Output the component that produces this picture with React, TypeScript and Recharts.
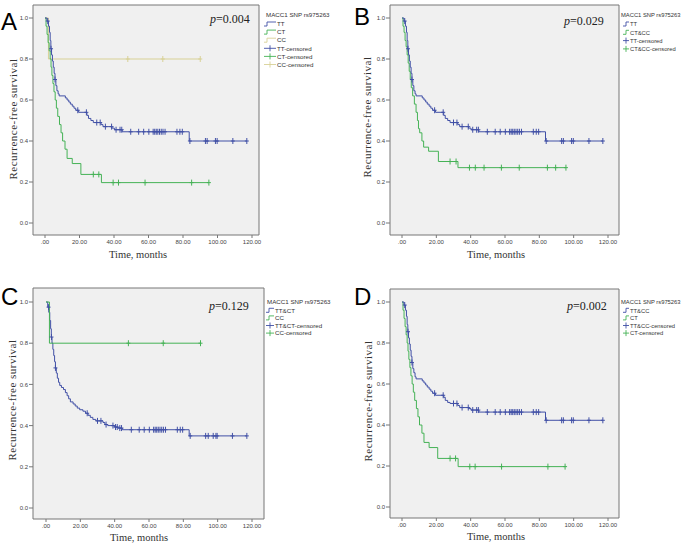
import React from "react";
import { ComposedChart, Line, Scatter, XAxis, YAxis, CartesianGrid, ReferenceArea } from "recharts";

// ---------- tick values ----------
const X_TICKS = [0, 20, 40, 60, 80, 100, 120];
const Y_TICKS = [0, 0.2, 0.4, 0.6, 0.8, 1.0];

// ---------- Kaplan-Meier step data (time in months, survival) ----------
// TT (panels A and B)
const TT_TIME = [0, 1.2, 2.0, 2.6, 3.0, 3.4, 3.8, 4.3, 4.8, 5.3, 5.8, 6.3, 6.9, 7.6, 8.2, 11.8, 12.8, 13.8, 14.7, 15.8, 16.8, 17.8, 19.5, 24.3, 25.2, 26.6, 28.0, 32.5, 33.6, 38.8, 40.2, 44.8, 83.6, 117];
const TT_SURV = [1.0, 0.985, 0.96, 0.93, 0.89, 0.85, 0.82, 0.79, 0.76, 0.73, 0.70, 0.67, 0.645, 0.63, 0.62, 0.61, 0.60, 0.59, 0.58, 0.57, 0.56, 0.55, 0.54, 0.525, 0.51, 0.50, 0.49, 0.48, 0.47, 0.463, 0.455, 0.445, 0.40, 0.40];
const TT_CENSOR = [1.6, 3.5, 5.8, 19.0, 24.0, 30.0, 32.0, 35.0, 38.6, 41.2, 43.5, 44.5, 49.7, 54.3, 57.2, 60.2, 62.7, 63.6, 64.5, 65.4, 66.4, 67.4, 68.4, 69.6, 76.5, 78.2, 79.6, 84.0, 93.0, 94.0, 98.8, 99.8, 108.9, 117];

// CT (panels A and D)
const CT_TIME = [0, 0.6, 1.2, 1.8, 2.4, 3.0, 3.5, 4.0, 4.6, 5.2, 5.9, 6.6, 7.4, 8.4, 9.3, 10.2, 11.6, 12.8, 15.8, 20.8, 32.7, 95];
const CT_SURV = [1.0, 0.96, 0.92, 0.88, 0.84, 0.80, 0.76, 0.72, 0.68, 0.64, 0.60, 0.56, 0.52, 0.48, 0.44, 0.40, 0.36, 0.315, 0.29, 0.237, 0.197, 0.197];
const CT_CENSOR = [28, 31.2, 39.5, 42.6, 58, 85, 95];

// CC (panels A and C)
const CC_TIME = [0, 2.0, 90];
const CC_SURV = [1.0, 0.8, 0.8];
const CC_CENSOR = [48, 68.3, 90];

// CT&CC (panel B)
const CTCC_TIME = [0, 0.6, 1.2, 1.8, 2.4, 3.0, 3.6, 4.2, 4.8, 5.4, 6.2, 7.2, 8.2, 9.0, 9.6, 10.3, 11.6, 12.6, 15.5, 21.2, 32.6, 95.5];
const CTCC_SURV = [1.0, 0.96, 0.93, 0.89, 0.86, 0.82, 0.78, 0.74, 0.70, 0.66, 0.62, 0.58, 0.54, 0.50, 0.46, 0.44, 0.40, 0.37, 0.35, 0.30, 0.27, 0.27];
const CTCC_CENSOR = [28, 31.5, 39.3, 42.7, 47.8, 57.9, 68.3, 84.7, 89.5, 95.5];

// TT&CT (panel C)
const TTCT_TIME = [0, 1.0, 1.6, 2.2, 2.7, 3.1, 3.5, 4.0, 4.5, 5.0, 5.5, 6.0, 6.6, 7.3, 8.0, 9.0, 10.2, 11.3, 12.3, 13.2, 14.2, 15.8, 17.0, 18.2, 19.6, 21.5, 23.0, 24.5, 25.8, 27.3, 29.0, 33.2, 34.3, 36.0, 39.8, 42.0, 44.5, 83.4, 117];
const TTCT_SURV = [1.0, 0.975, 0.95, 0.91, 0.87, 0.83, 0.80, 0.77, 0.74, 0.71, 0.68, 0.655, 0.63, 0.61, 0.595, 0.585, 0.575, 0.56, 0.545, 0.53, 0.515, 0.505, 0.495, 0.485, 0.477, 0.47, 0.46, 0.45, 0.44, 0.43, 0.423, 0.415, 0.405, 0.40, 0.393, 0.388, 0.38, 0.35, 0.35];
const TTCT_CENSOR = [1.5, 3.2, 5.5, 24.0, 30.0, 32.0, 35.0, 39.0, 40.5, 41.5, 43.0, 44.0, 49.7, 54.3, 57.2, 60.2, 62.7, 63.6, 64.5, 65.4, 66.4, 67.4, 68.4, 69.6, 76.5, 78.2, 79.6, 84.0, 93.0, 94.5, 97.4, 99.0, 99.7, 108.6, 117];

// TT&CC (panel D)
const TTCC_TIME = [0, 1.2, 2.0, 2.6, 3.0, 3.4, 3.8, 4.3, 4.8, 5.3, 5.8, 6.3, 6.9, 7.6, 8.2, 11.8, 12.8, 13.8, 14.7, 15.8, 16.8, 17.8, 19.5, 24.3, 25.2, 26.6, 28.0, 32.5, 33.6, 38.8, 40.2, 44.8, 83.6, 117];
const TTCC_SURV = [1.0, 0.985, 0.96, 0.93, 0.89, 0.855, 0.825, 0.795, 0.765, 0.735, 0.705, 0.675, 0.655, 0.635, 0.625, 0.615, 0.605, 0.595, 0.585, 0.575, 0.565, 0.555, 0.545, 0.535, 0.52, 0.51, 0.505, 0.495, 0.485, 0.48, 0.473, 0.463, 0.423, 0.423];
const TTCC_CENSOR = TT_CENSOR;

// ---------- legend labels / p-values ----------
const LEGEND_TITLE = "MACC1 SNP rs975263";
const A_LABELS = ["TT", "CT", "CC", "TT-censored", "CT-censored", "CC-censored"];
const B_LABELS = ["TT", "CT&CC", "TT-censored", "CT&CC-censored"];
const C_LABELS = ["TT&CT", "CC", "TT&CT-censored", "CC-censored"];
const D_LABELS = ["TT&CC", "CT", "TT&CC-censored", "CT-censored"];
const P_VALUES = ["0.004", "0.029", "0.129", "0.002"];
const PANEL_LETTERS = ["A", "B", "C", "D"];

// ---------- styling ----------
const BLUE = "#4150a6";
const GREEN = "#45b256";
const PALE = "#d8d196";
const SANS = "'Liberation Sans', Arial, sans-serif";
const SERIF = "'Liberation Serif', 'Times New Roman', serif";

function km(times: number[], surv: number[]) {
  return times.map((t, i) => ({ t, s: surv[i] }));
}
function censored(cens: number[], times: number[], surv: number[]) {
  return cens.map((c) => {
    let idx = 0;
    for (let i = 0; i < times.length; i++) if (times[i] <= c) idx = i;
    return { t: c, s: surv[idx] };
  });
}

type Series = { time: number[]; surv: number[]; cens: number[]; color: string };

const plusShape = (color: string) => (props: any) => {
  const { cx, cy } = props;
  if (cx == null || cy == null) return <g />;
  return (
    <path d={`M${cx - 2},${cy}H${cx + 2}M${cx},${cy - 3}V${cy + 3}`} stroke={color} strokeWidth={1} fill="none" />
  );
};

type PanelCfg = {
  box: { l: number; t: number; w: number; h: number };
  x0: number; x120: number; y1: number; y0: number;
  series: Series[];
};

const PANELS: PanelCfg[] = [
  {
    box: { l: 33, t: 5, w: 226, h: 230 }, x0: 45, x120: 252, y1: 18, y0: 223,
    series: [
      { time: CC_TIME, surv: CC_SURV, cens: CC_CENSOR, color: PALE },
      { time: CT_TIME, surv: CT_SURV, cens: CT_CENSOR, color: GREEN },
      { time: TT_TIME, surv: TT_SURV, cens: TT_CENSOR, color: BLUE },
    ],
  },
  {
    box: { l: 390, t: 5, w: 229, h: 230 }, x0: 402, x120: 608, y1: 18, y0: 223,
    series: [
      { time: CTCC_TIME, surv: CTCC_SURV, cens: CTCC_CENSOR, color: GREEN },
      { time: TT_TIME, surv: TT_SURV, cens: TT_CENSOR, color: BLUE },
    ],
  },
  {
    box: { l: 33, t: 288, w: 231, h: 231 }, x0: 46, x120: 252, y1: 302, y0: 508,
    series: [
      { time: TTCT_TIME, surv: TTCT_SURV, cens: TTCT_CENSOR, color: BLUE },
      { time: CC_TIME, surv: CC_SURV, cens: CC_CENSOR, color: GREEN },
    ],
  },
  {
    box: { l: 390, t: 289, w: 229, h: 229 }, x0: 402, x120: 608, y1: 302, y0: 507,
    series: [
      { time: CT_TIME, surv: CT_SURV, cens: CT_CENSOR, color: GREEN },
      { time: TTCC_TIME, surv: TTCC_SURV, cens: TTCC_CENSOR, color: BLUE },
    ],
  },
];

function Panel({ cfg }: { cfg: PanelCfg }) {
  const { box, x0, x120, y1, y0, series } = cfg;
  const sx = (x120 - x0) / 120;
  const xDomain: [number, number] = [-(x0 - box.l) / sx, (box.l + box.w - x0) / sx];
  const sy = y0 - y1;
  const yDomain: [number, number] = [-(box.t + box.h - y0) / sy, 1 + (y1 - box.t) / sy];
  const ML = 30, MT = 4, MR = 3, MB = 14;
  return (
    <div style={{ position: "absolute", left: box.l - ML, top: box.t - MT }}>
      <ComposedChart
        width={box.w + ML + MR}
        height={box.h + MT + MB}
        margin={{ left: 0, top: MT, right: MR, bottom: 0 }}
      >
        <CartesianGrid fill="#f0f0f0" horizontal={false} vertical={false} />
        <XAxis
          type="number"
          dataKey="t"
          domain={xDomain}
          allowDataOverflow
          ticks={X_TICKS}
          interval={0}
          tickFormatter={(v: number) => (v === 0 ? ".00" : v.toFixed(2))}
          height={MB}
          axisLine={false}
          tickSize={3}
          tickMargin={2}
          tickLine={{ stroke: "#777" }}
          tick={{ fontSize: 6, fill: "#444", fontFamily: SANS }}
        />
        <YAxis
          type="number"
          dataKey="s"
          domain={yDomain}
          allowDataOverflow
          ticks={Y_TICKS}
          interval={0}
          tickFormatter={(v: number) => v.toFixed(1)}
          width={ML}
          axisLine={false}
          tickSize={4}
          tickMargin={1}
          tickLine={{ stroke: "#777" }}
          tick={{ fontSize: 6, fill: "#444", fontFamily: SANS }}
        />
        <ReferenceArea
          x1={xDomain[0]}
          x2={xDomain[1]}
          y1={yDomain[0]}
          y2={yDomain[1]}
          fill="none"
          stroke="#777"
          strokeWidth={1}
          ifOverflow="visible"
        />
        {series.map((s, i) => (
          <Line
            key={"l" + i}
            data={km(s.time, s.surv)}
            dataKey="s"
            type="stepAfter"
            stroke={s.color}
            strokeWidth={1}
            dot={false}
            activeDot={false}
            isAnimationActive={false}
          />
        ))}
        {series.map((s, i) => (
          <Scatter
            key={"c" + i}
            data={censored(s.cens, s.time, s.surv)}
            shape={plusShape(s.color)}
            isAnimationActive={false}
          />
        ))}
      </ComposedChart>
    </div>
  );
}

type LegendCfg = {
  titleX: number; titleY: number; iconX: number; textX: number; firstY: number; step: number; fs: number;
  labels: string[]; colors: string[]; kinds: ("line" | "cens")[];
};

const LEGENDS: LegendCfg[] = [
  { titleX: 266, titleY: 16.5, iconX: 264, textX: 277, firstY: 24, step: 8.1, fs: 6.2, labels: A_LABELS,
    colors: [BLUE, GREEN, PALE, BLUE, GREEN, PALE], kinds: ["line", "line", "line", "cens", "cens", "cens"] },
  { titleX: 621, titleY: 17, iconX: 623, textX: 630, firstY: 24, step: 8.3, fs: 5.8, labels: B_LABELS,
    colors: [BLUE, GREEN, BLUE, GREEN], kinds: ["line", "line", "cens", "cens"] },
  { titleX: 267, titleY: 303.5, iconX: 266, textX: 275, firstY: 310.3, step: 7.6, fs: 6.2, labels: C_LABELS,
    colors: [BLUE, GREEN, BLUE, GREEN], kinds: ["line", "line", "cens", "cens"] },
  { titleX: 621, titleY: 303.5, iconX: 623, textX: 630, firstY: 310.3, step: 7.6, fs: 5.8, labels: D_LABELS,
    colors: [BLUE, GREEN, BLUE, GREEN], kinds: ["line", "line", "cens", "cens"] },
];

const LETTER_POS = [
  { x: 1, y: 30 },
  { x: 354, y: 25 },
  { x: 1, y: 305 },
  { x: 354, y: 305 },
];
const P_POS = [
  { x: 210, y: 23 },
  { x: 564, y: 25 },
  { x: 209, y: 310 },
  { x: 567, y: 310 },
];
const YLABEL_POS = [
  { x: 13, y: 119 },
  { x: 367, y: 117 },
  { x: 12, y: 400 },
  { x: 368, y: 401 },
];
const XLABEL_POS = [
  { x: 138, y: 258 },
  { x: 496, y: 258 },
  { x: 139, y: 541 },
  { x: 496, y: 540 },
];

function Overlay() {
  return (
    <svg width={686} height={547} style={{ position: "absolute", left: 0, top: 0, pointerEvents: "none" }}>
      {PANEL_LETTERS.map((L, i) => (
        <text key={"L" + i} x={LETTER_POS[i].x} y={LETTER_POS[i].y} fontSize={24} fontFamily={SANS} fill="#000">
          {L}
        </text>
      ))}
      {P_VALUES.map((p, i) => (
        <text key={"p" + i} x={P_POS[i].x} y={P_POS[i].y} fontSize={12} fontFamily={SERIF} fill="#222">
          <tspan fontStyle="italic">p</tspan>
          <tspan>={p}</tspan>
        </text>
      ))}
      {YLABEL_POS.map((pos, i) => (
        <text
          key={"y" + i}
          transform={`translate(${pos.x},${pos.y}) rotate(-90)`}
          textAnchor="middle"
          dominantBaseline="central"
          fontSize={11}
          letterSpacing={0.5}
          fontFamily={SERIF}
          fill="#333"
        >
          Recurrence-free survival
        </text>
      ))}
      {XLABEL_POS.map((pos, i) => (
        <text key={"x" + i} x={pos.x} y={pos.y} textAnchor="middle" fontSize={10.5} fontFamily={SERIF} fill="#333">
          Time, months
        </text>
      ))}
      {LEGENDS.map((lg, i) => (
        <g key={"lg" + i} fontFamily={SANS} fontSize={lg.fs} fill="#333">
          <text x={lg.titleX} y={lg.titleY}>{LEGEND_TITLE}</text>
          {lg.labels.map((lab, j) => {
            const cy = lg.firstY + j * lg.step;
            const c = lg.colors[j];
            return (
              <g key={j}>
                {lg.kinds[j] === "line" ? (
                  <path d={`M${lg.iconX},${cy + 2}H${lg.iconX + 3}V${cy - 2}H${lg.textX - 1}`} stroke={c} strokeWidth={0.9} fill="none" />
                ) : (
                  <path
                    d={`M${lg.iconX},${cy}H${lg.textX - 1}M${(lg.iconX + lg.textX - 1) / 2},${cy - 3}V${cy + 3}`}
                    stroke={c}
                    strokeWidth={0.9}
                    fill="none"
                  />
                )}
                <text x={lg.textX} y={cy + 2.2}>{lab}</text>
              </g>
            );
          })}
        </g>
      ))}
    </svg>
  );
}

export default function App() {
  return (
    <div style={{ position: "absolute", left: 0, top: 0, width: 686, height: 547, background: "#fff", overflow: "hidden" }}>
      {PANELS.map((p, i) => (
        <Panel key={i} cfg={p} />
      ))}
      <Overlay />
    </div>
  );
}
